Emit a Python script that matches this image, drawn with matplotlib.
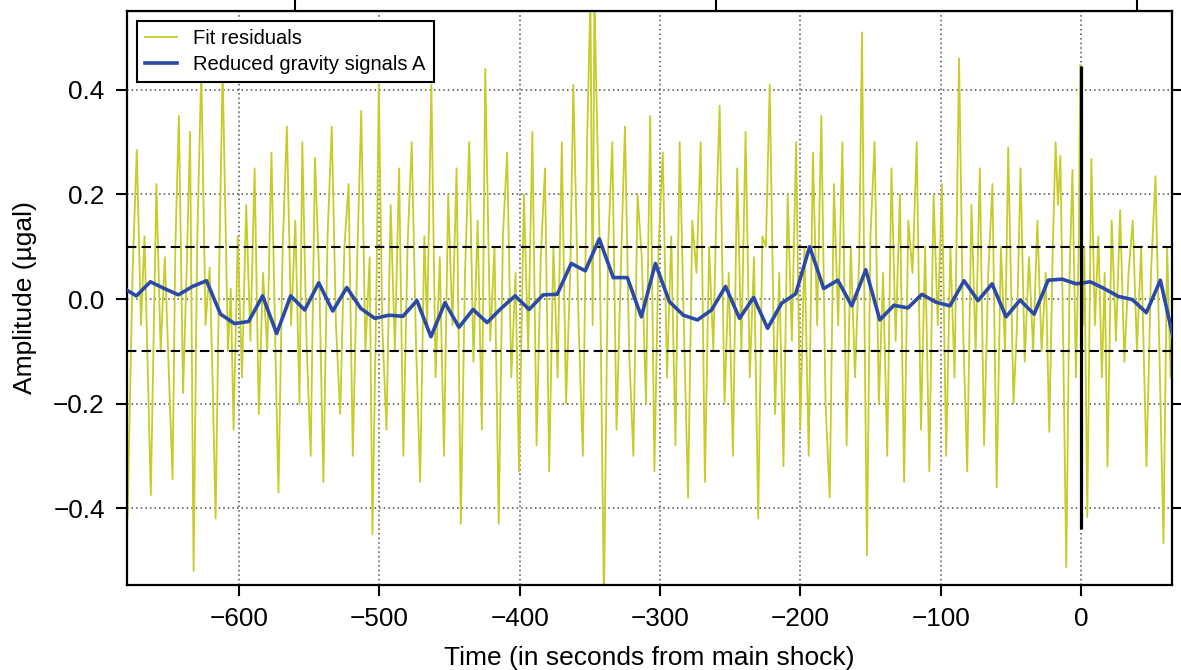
import numpy as np
import matplotlib
matplotlib.use("Agg")
import matplotlib.pyplot as plt

plt.rcParams['font.family'] = ['Liberation Sans', 'DejaVu Sans']

# Fit residuals: times (s from main shock) of successive turning points and amplitudes (µgal)
res_t = [
    -681, -679.6, -676, -673, -670, -667.5, -663, -659, -656, -653, -650, -647.5, -645.5, -643,
    -640, -637.5, -635, -632.5, -630, -627, -624, -621, -619, -616.8, -614, -611.8, -608, -606,
    -604, -601,
    -598, -595, -592, -589, -586, -583, -580, -577, -574, -572, -569, -566, -563, -560, -557,
    -555, -552, -549, -546, -543, -540, -537, -534, -531, -528, -525, -522, -519, -516, -513,
    -510, -507, -505, -502, -500.5, -498,
    -495, -492, -489, -486, -483, -480, -477, -474, -471, -468, -466, -463, -460, -457, -454,
    -451, -448, -445, -442, -439, -436, -433, -430, -427, -424.6, -421, -418, -415, -412, -409,
    -406, -403, -400.5,
    -397, -394, -391, -388, -385, -382, -379, -376, -373, -370, -367, -364, -361.8, -358, -355,
    -352, -349.6, -348, -346.8, -343, -340, -337, -334, -331, -328, -325, -322, -319, -316,
    -313, -310, -307, -304, -301,
    -298, -295, -292, -289, -286, -283, -280, -277, -274, -271, -268, -265, -262, -260, -257.5,
    -254, -251, -248, -245, -242, -239, -236, -233, -230, -227, -224.5, -221.8, -218, -215,
    -212, -209, -206, -203, -200,
    -197, -194, -191, -188, -185, -182, -179, -176, -173, -170, -167, -164, -161, -158, -156,
    -154, -152.5, -150, -147, -144, -141, -138, -135, -132, -129, -126, -123, -120, -117, -114,
    -111, -108, -105, -102,
    -99, -96, -93, -90, -86.8, -84, -81, -78, -75, -72, -69, -66, -63, -60, -57, -54, -51.8,
    -48, -45.5, -43, -40, -37, -34, -31, -28, -25, -22.5, -20, -18, -16.3, -14.6, -12.5, -10.4,
    -8, -6, -3.5, -1.5, -0.4, 1.5,
    2.5, 4.6, 7.5, 10, 12.5, 15, 17, 19, 22, 25, 28, 31, 34, 37, 40, 43, 46.8, 50, 53.2, 56,
    58.9, 61.5, 64, 66.5,
]
res_v = [
    -0.30, -0.42, 0.05, 0.285, -0.05, 0.12, -0.375, 0.22, -0.10, 0.08, -0.15, -0.345, 0.10, 0.35,
    -0.18, 0.05, 0.32, -0.52, 0.10, 0.44, -0.05, 0.06, -0.15, -0.42, 0.10, 0.44, -0.10, 0.02,
    -0.25, 0.12,
    -0.15, 0.18, -0.08, 0.25, -0.22, 0.05, -0.10, 0.28, -0.12, -0.37, 0.10, 0.33, -0.05, 0.15, -0.20,
    0.30, -0.08, -0.30, 0.27, 0.05, -0.35, 0.12, 0.33, -0.05, -0.22, 0.10, 0.22, -0.30, 0.06, 0.36,
    -0.10, 0.08, -0.45, 0.05, 0.41, -0.05,
    -0.25, 0.18, -0.10, 0.25, -0.30, 0.10, 0.30, -0.08, -0.35, 0.12, -0.05, 0.41, -0.15, 0.08, -0.30,
    0.20, -0.05, 0.25, -0.43, 0.05, 0.30, -0.12, 0.15, -0.25, 0.44, -0.08, 0.10, -0.43, 0.12, 0.28,
    -0.15, 0.05, -0.33,
    0.20, -0.10, 0.32, -0.28, 0.08, 0.25, -0.33, 0.10, -0.15, 0.30, -0.20, 0.05, 0.41, -0.05, -0.30,
    0.30, 0.58, -0.05, 0.58, 0.10, -0.58, 0.10, 0.30, -0.25, 0.05, 0.33, -0.10, -0.30, 0.20,
    0.08, -0.20, 0.35, -0.33, 0.10,
    0.28, -0.15, 0.12, -0.28, 0.30, -0.05, -0.38, 0.15, 0.05, 0.30, -0.35, 0.10, -0.10, 0.15, 0.37,
    -0.20, 0.05, -0.30, 0.25, -0.10, 0.32, -0.15, 0.08, -0.42, 0.12, 0.10, 0.41, -0.22, 0.05,
    -0.32, 0.20, -0.08, 0.30, -0.25,
    0.10, -0.30, 0.28, -0.05, 0.35, -0.20, -0.38, 0.22, -0.05, 0.30, -0.28, 0.10, -0.15, 0.08, 0.51,
    -0.10, -0.49, 0.12, 0.30, -0.20, 0.05, -0.30, 0.25, -0.08, 0.20, -0.35, 0.15, 0.05, 0.30, -0.25,
    0.10, -0.33, 0.20, -0.05,
    0.22, -0.30, 0.10, -0.15, 0.46, -0.05, -0.33, 0.18, -0.10, 0.25, -0.28, 0.05, 0.22, -0.36, 0.10,
    -0.10, 0.29, -0.20, -0.05, 0.25, -0.12, 0.08, -0.10, 0.15, -0.10, 0.05, -0.254, 0.10, 0.30,
    0.18, 0.274, -0.10, -0.513, 0.05, 0.247, -0.15, 0.10, 0.448, -0.05,
    0.10, -0.417, 0.268, -0.05, 0.12, -0.15, 0.05, -0.32, 0.15, -0.08, 0.17, -0.12, 0.05, 0.15, -0.10,
    0.10, -0.32, 0.05, 0.235, -0.10, -0.467, 0.10, -0.15, 0.05,
]

# Reduced gravity signal A, one value every 10 s
sig_t = np.arange(-683.3, 70, 10)
sig_v = [
    0.022, 0.006, 0.033, 0.020, 0.008, 0.024, 0.035, -0.029, -0.047, -0.043,
    0.006, -0.066, 0.006, -0.021, 0.031, -0.023, 0.022, -0.018, -0.037, -0.031,
    -0.033, -0.003, -0.072, -0.007, -0.054, -0.020, -0.045, -0.018, 0.006, -0.020,
    0.008, 0.009, 0.068, 0.054, 0.115, 0.041, 0.041, -0.034, 0.068, -0.005,
    -0.031, -0.040, -0.021, 0.024, -0.037, 0.003, -0.056, -0.008, 0.010, 0.100,
    0.020, 0.036, -0.013, 0.056, -0.040, -0.012, -0.017, 0.009, -0.006, -0.013,
    0.035, -0.003, 0.029, -0.034, -0.002, -0.029, 0.036, 0.038, 0.029, 0.033,
    0.020, 0.005, -0.001, -0.026, 0.036, -0.085,
]

threshold = 0.1
x_ticks = [-600, -500, -400, -300, -200, -100, 0]
y_ticks = [-0.4, -0.2, 0.0, 0.2, 0.4]
top_ticks = [-560, -260, 40]

fig = plt.figure(figsize=(11.81, 6.70), dpi=100)
ax = fig.add_axes([0.1075, 0.1269, 0.8849, 0.8567])

ax.plot(res_t, res_v, color='#c6cc28', lw=1.3, zorder=2, label='Fit residuals')
ax.plot(sig_t, sig_v, color='#2b4aa8', lw=2.6, zorder=4, label='Reduced gravity signals A')
for level in (threshold, -threshold):
    ax.axhline(level, color='black', lw=1.5, linestyle=(0, (4.5, 2.5)), zorder=3)
ax.vlines(0, -0.44, 0.445, color='black', lw=2.3, zorder=5)

ax.set_xlim(-680, 65)
ax.set_ylim(-0.547, 0.551)
ax.set_xticks(x_ticks)
ax.set_yticks(y_ticks)
ax.grid(True, color='#4d4d4d', linestyle=(0, (1, 2)), lw=1.1, zorder=1)
ax.set_axisbelow(True)

ax.tick_params(axis='both', direction='out', length=8, width=1.5, labelsize=18.8, pad=8,
               right=True, top=False)
for sp in ax.spines.values():
    sp.set_linewidth(1.6)

# Unlabelled ticks on the upper edge
top = ax.secondary_xaxis('top')
top.set_xticks(top_ticks)
top.set_xticklabels([])
top.tick_params(direction='out', length=8, width=1.5)

ax.set_xlabel('Time (in seconds from main shock)', fontsize=19)
ax.set_ylabel('Amplitude (µgal)', fontsize=19)
ax.xaxis.set_label_coords(0.5, -0.106)
ax.yaxis.set_label_coords(-0.086, 0.5)

leg = ax.legend(loc='upper left', fontsize=14.5, handlelength=1.6, fancybox=False,
                framealpha=1, edgecolor='black', labelspacing=0.35, borderaxespad=0.5)
leg.get_frame().set_linewidth(1.5)
leg.set_zorder(10)

fig.savefig('out.png', dpi=100)
